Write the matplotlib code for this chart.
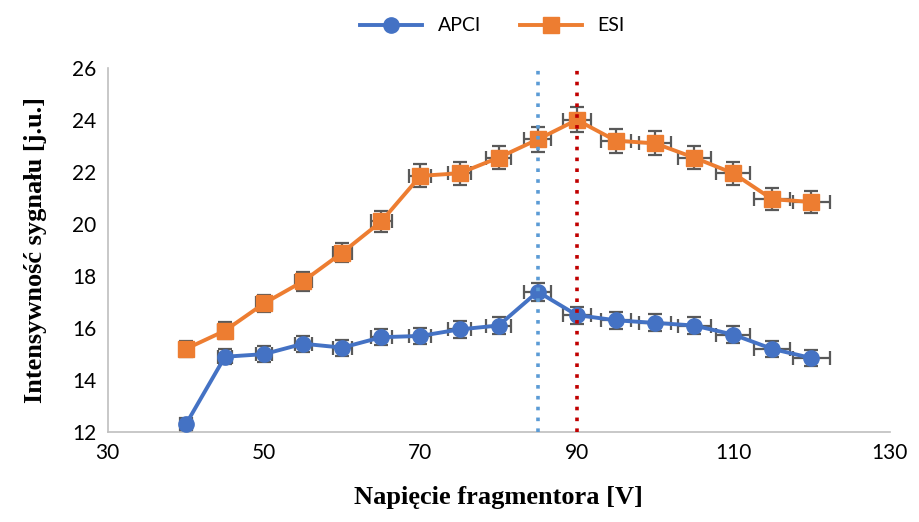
import matplotlib.pyplot as plt

napiecie = [40, 45, 50, 55, 60, 65, 70, 75, 80, 85, 90, 95, 100, 105, 110, 115, 120]
apci = [12.3, 14.9, 15.0, 15.4, 15.25, 15.65, 15.7, 15.95, 16.1, 17.4, 16.5, 16.3, 16.2, 16.1, 15.75, 15.2, 14.85]
esi = [15.2, 15.9, 16.95, 17.8, 18.9, 20.1, 21.85, 21.95, 22.55, 23.25, 24.0, 23.2, 23.1, 22.55, 21.95, 20.95, 20.85]
err_pct = 0.02  # error bars: 2% of value (x and y)
opt_apci = 85
opt_esi = 90

fig = plt.figure(figsize=(9.2, 5.22), dpi=100)
ax = fig.add_axes([0.117, 0.172, 0.85, 0.698])

for ys in (apci, esi):
    ax.errorbar(napiecie, ys, xerr=[x * err_pct for x in napiecie], yerr=[y * err_pct for y in ys],
                fmt="none", ecolor="#595959", elinewidth=1.6, capsize=5, capthick=1.6, zorder=2)

ax.plot(napiecie, apci, color="#4472C4", lw=2.8, marker="o", ms=11, label="APCI", zorder=3)
ax.plot(napiecie, esi, color="#ED7D31", lw=2.8, marker="s", ms=11, label="ESI", zorder=3)

ax.axvline(opt_apci, color="#5B9BD5", lw=2.6, ls=(0, (1, 2.0)), zorder=5)
ax.axvline(opt_esi, color="#C00000", lw=2.6, ls=(0, (1, 2.0)), zorder=5)

ax.set_xlim(30, 130)
ax.set_ylim(12, 26)
ax.set_xticks(range(30, 131, 20))
ax.set_yticks(range(12, 27, 2))
ax.tick_params(length=0, labelsize=15, pad=8, labelcolor="#000000")
for lab in ax.get_xticklabels() + ax.get_yticklabels():
    lab.set_family("Lato")
for s in ("top", "right"):
    ax.spines[s].set_visible(False)
for s in ("left", "bottom"):
    ax.spines[s].set_color("#BFBFBF")
    ax.spines[s].set_linewidth(1.2)

ax.set_xlabel("Napięcie fragmentora [V]", family="Liberation Serif", fontweight="bold", fontsize=19, labelpad=16)
ax.set_ylabel("Intensywność sygnału [j.u.]", family="Liberation Serif", fontweight="bold", fontsize=19, labelpad=18)

fig.legend(loc="upper center", bbox_to_anchor=(0.535, 1.0), ncol=2, frameon=False,
           prop={"family": "Lato", "size": 14}, handlelength=3.2, columnspacing=2.0)

plt.savefig("out.png", dpi=100)
